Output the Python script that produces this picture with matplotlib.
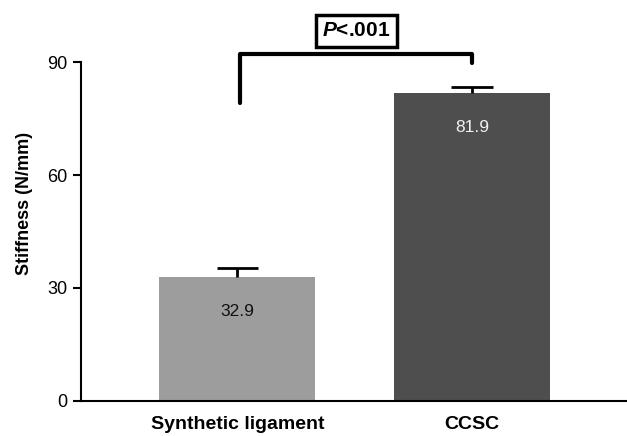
import matplotlib.pyplot as plt

plt.rcParams['font.family'] = ['Liberation Sans', 'DejaVu Sans']
plt.rcParams['mathtext.fontset'] = 'custom'
plt.rcParams['mathtext.bfit'] = 'Liberation Sans:bold:italic'

groups = ['Synthetic ligament', 'CCSC']
stiffness = [32.9, 81.9]
sem = [2.4, 1.7]
bar_colors = ['#9d9d9d', '#4e4e4e']
label_colors = ['#111111', '#f0f0f0']
yticks = [0, 30, 60, 90]

fig = plt.figure(figsize=(6.27, 4.36), dpi=100)
ax = fig.add_axes([0.129, 0.081, 0.871, 0.905])

xs = list(range(len(groups)))
ax.bar(xs, stiffness, width=0.665, color=bar_colors, zorder=2)

# one-sided error bars (upper only)
tops = [v + e for v, e in zip(stiffness, sem)]
ax.vlines(xs, stiffness, tops, color='black', lw=2, zorder=3)
ax.hlines(tops, [x - 0.089 for x in xs], [x + 0.089 for x in xs],
          color='black', lw=2, zorder=3)

for x, v, c in zip(xs, stiffness, label_colors):
    ax.text(x, v - 9.3, f'{v}', ha='center', va='center', fontsize=12.5, color=c)

# significance bracket
ax.plot([0.01, 0.01, 1.0, 1.0], [79.2, 92.2, 92.2, 89.8], color='black',
        lw=3, clip_on=False, solid_capstyle='round')
ax.text(0.507, 98.4, r'$\mathbfit{P}$<.001', ha='center', va='center',
        fontsize=15, fontweight='bold',
        bbox=dict(boxstyle='square,pad=0.3', fc='white', ec='black', lw=2.5))

ax.set_xlim(-0.667, 1.66)
ax.set_ylim(0, 105)
ax.set_yticks(yticks)
ax.set_xticks(xs)
ax.set_xticklabels(groups, fontweight='bold', fontsize=14)
ax.tick_params(axis='x', length=0, pad=11)
ax.tick_params(axis='y', length=6, width=1.5, labelsize=13, pad=4)
ax.set_ylabel('Stiffness (N/mm)', fontweight='bold', fontsize=13, labelpad=10)

ax.spines['top'].set_visible(False)
ax.spines['right'].set_visible(False)
ax.spines['left'].set_bounds(0, 90)
ax.spines['left'].set_linewidth(1.5)
ax.spines['bottom'].set_linewidth(1.5)

fig.savefig('out.png', dpi=100)
